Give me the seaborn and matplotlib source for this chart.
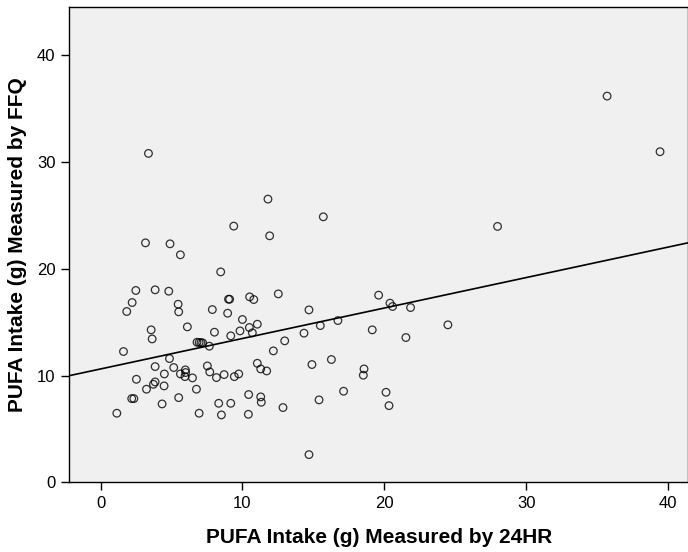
import matplotlib
matplotlib.use("Agg")
import matplotlib.pyplot as plt
import seaborn as sns
import pandas as pd

# PUFA intake (g) per participant: 24-hour recall vs. food frequency questionnaire
pufa_24hr = [
    3.38, 11.80, 9.39, 11.92, 3.17, 4.90, 5.63, 8.47, 2.49, 3.85,
    4.81, 12.53, 10.51, 10.80, 9.02, 9.10, 2.23, 5.47, 1.85, 5.51,
    7.88, 8.96, 10.00, 11.05, 10.49, 10.70, 9.83, 3.57, 3.64, 6.12,
    8.03, 9.18, 12.98, 6.80, 6.95, 7.08, 7.20, 7.67, 12.18, 1.62,
    4.86, 11.05, 11.29, 11.71, 3.85, 5.16, 7.53, 7.70, 5.98, 6.00,
    5.63, 5.95, 6.48, 4.50, 8.17, 8.71, 9.43, 9.74, 2.53, 3.85,
    3.73, 4.48, 3.24, 6.76, 2.20, 2.35, 5.51, 4.34, 10.44, 11.29,
    11.33, 8.33, 9.18, 12.86, 1.15, 6.95, 8.52, 10.42, 15.70, 14.69,
    14.34, 15.49, 16.73, 19.60, 20.40, 20.58, 21.85, 19.15, 21.52, 24.48,
    14.90, 16.27, 18.57, 18.52, 17.13, 15.40, 20.12, 20.33, 14.69, 35.70,
    39.43, 27.98,
]
pufa_ffq = [
    30.81, 26.53, 24.00, 23.09, 22.43, 22.34, 21.31, 19.71, 17.97, 18.03,
    17.90, 17.65, 17.37, 17.12, 17.15, 17.15, 16.84, 16.68, 16.00, 15.97,
    16.18, 15.84, 15.25, 14.81, 14.50, 14.00, 14.18, 14.28, 13.43, 14.56,
    14.06, 13.72, 13.25, 13.12, 13.10, 13.08, 13.06, 12.75, 12.31, 12.25,
    11.59, 11.15, 10.62, 10.43, 10.84, 10.75, 10.90, 10.34, 10.53, 10.28,
    10.15, 9.90, 9.78, 10.15, 9.81, 10.09, 9.90, 10.15, 9.65, 9.40,
    9.18, 9.03, 8.72, 8.72, 7.84, 7.84, 7.93, 7.34, 8.22, 8.00,
    7.50, 7.40, 7.40, 7.00, 6.47, 6.47, 6.31, 6.37, 24.87, 16.15,
    13.97, 14.68, 15.15, 17.53, 16.78, 16.47, 16.37, 14.28, 13.56, 14.75,
    11.03, 11.50, 10.62, 10.03, 8.53, 7.72, 8.43, 7.18, 2.59, 36.18,
    30.97, 23.97,
]
x_ticks = [0, 10, 20, 30, 40]
y_ticks = [0, 10, 20, 30, 40]

df = pd.DataFrame({"hr24": pufa_24hr, "ffq": pufa_ffq})

sns.set_theme(style="ticks", rc={"text.color": "black", "axes.labelcolor": "black",
                                 "xtick.color": "black", "ytick.color": "black"})
plt.rcParams["font.family"] = ["Liberation Sans", "DejaVu Sans"]

fig = plt.figure(figsize=(6.88, 5.52), dpi=100)
ax = fig.add_axes([0.1007, 0.1263, 0.8993, 0.8605])
ax.set_facecolor("#f0f0f0")
ax.set_xlim(-2.2, 41.4)
ax.set_ylim(0, 44.5)

sns.regplot(
    data=df, x="hr24", y="ffq", ax=ax, ci=None, truncate=False,
    scatter_kws=dict(s=30, facecolors="none", edgecolors="black", linewidths=0.9),
    line_kws=dict(color="black", linewidth=1.2),
)

ax.set_xticks(x_ticks)
ax.set_yticks(y_ticks)
ax.tick_params(axis="both", direction="out", length=6, width=1, color="black",
               labelsize=12, labelcolor="black", pad=4)
for side in ["left", "bottom", "top", "right"]:
    ax.spines[side].set_color("black")
    ax.spines[side].set_linewidth(1.0)

ax.set_xlabel("PUFA Intake (g) Measured by 24HR", fontsize=15, fontweight="bold",
              color="black", labelpad=12)
ax.set_ylabel("PUFA Intake (g) Measured by FFQ", fontsize=15, fontweight="bold",
              color="black", labelpad=7)

fig.savefig("out.png", dpi=100, facecolor="white")
